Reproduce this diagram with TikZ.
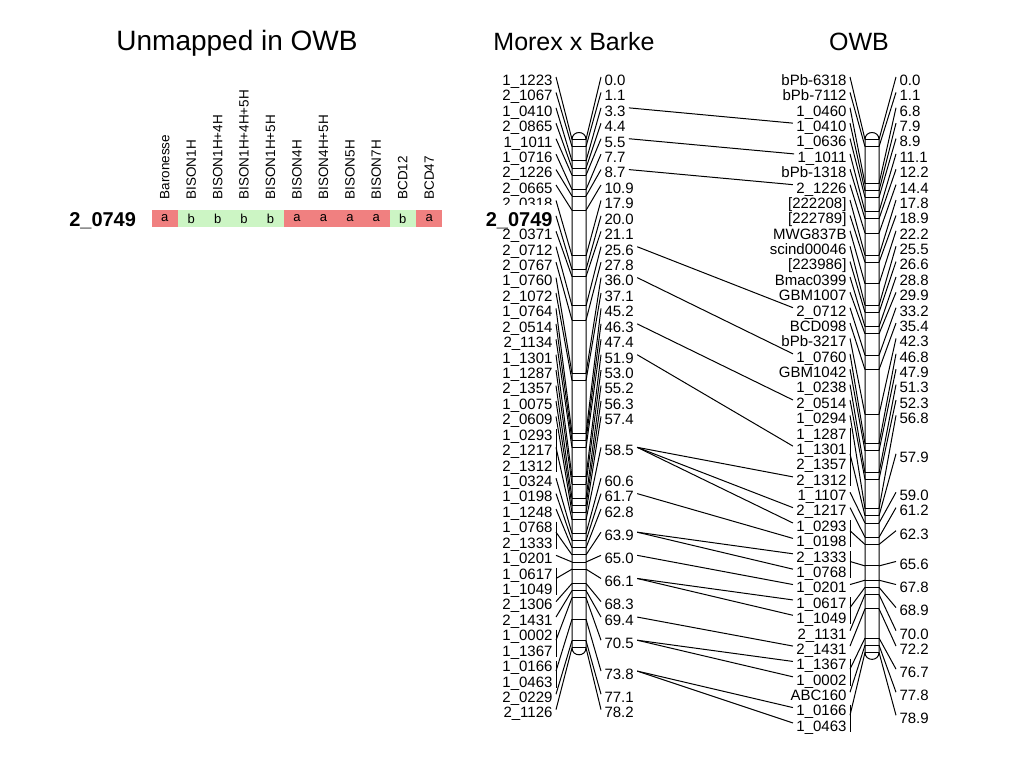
\documentclass[tikz,border=0pt]{standalone}
\usepackage{fontspec}
\setmainfont{Liberation Sans}
\usepackage{tikz}

\definecolor{cella}{RGB}{240,128,128}
\definecolor{cellb}{RGB}{204,245,196}

\begin{document}
\begin{tikzpicture}[x=1pt,y=-1pt,line width=1pt]
\tikzstyle{ttl} = [anchor=base, font=\fontsize{25}{25}\selectfont]
\tikzstyle{mk} = [anchor=east, inner xsep=3pt, inner ysep=0pt, text height=16.7pt, text depth=0pt, font=\fontsize{15}{15}\selectfont]
\tikzstyle{mkhl} = [mk, inner ysep=1pt, text height=20.3pt, fill=white, font=\bfseries\fontsize{20}{20}\selectfont]
\tikzstyle{ps} = [mk, anchor=west]
\tikzstyle{cell} = [minimum width=26.45pt, minimum height=17pt, inner sep=0pt, font=\fontsize{13}{13}\selectfont]
\tikzstyle{hdr} = [rotate=90, anchor=west, inner sep=0pt, font=\fontsize{13.5}{13.5}\selectfont]
\useasboundingbox (0,0) rectangle (1024,768);

\node[ttl, font=\fontsize{28}{28}\selectfont] (unm) at (237,51) {Unmapped in OWB};
\node[ttl] (mxb) at (574,51) {Morex x Barke};
\node[ttl] (owb) at (859,51) {OWB};

% genotype row
\node[mkhl] (row) at (139.5,216) {2\_0749};
\foreach \v/\s [count=\k] in {a/Baronesse, b/BISON1H, b/BISON1H+4H, b/BISON1H+4H+5H, b/BISON1H+5H, a/BISON4H, a/BISON4H+5H, a/BISON5H, a/BISON7H, b/BCD12, a/BCD47}
{
  \node[cell, fill=cell\v] (c\k) at ({151.5+26.45*(\k-0.5)},218.5) {\v};
  \node[hdr] (h\k) at ({151.5+26.45*(\k-0.5)},200) {\s};
}

% Morex x Barke
\draw (572,139.5) .. controls (572,130.2) and (586,130.2) .. (586,139.5) -- (586,647.8)
  .. controls (586,657.1) and (572,657.1) .. (572,647.8) -- cycle;
\foreach \mname [count=\i] in {1\_1223,2\_1067,1\_0410,2\_0865,1\_1011,1\_0716,2\_1226,2\_0665,2\_0318,2\_0749,2\_0371,2\_0712,2\_0767,1\_0760,2\_1072,1\_0764,2\_0514,2\_1134,1\_1301,1\_1287,2\_1357,1\_0075,2\_0609,1\_0293,2\_1217,2\_1312,1\_0324,1\_0198,1\_1248,1\_0768,2\_1333,1\_0201,1\_0617,1\_1049,2\_1306,2\_1431,1\_0002,1\_1367,1\_0166,1\_0463,2\_0229,2\_1126}
{
  \ifnum\i=10 \node[mkhl] (ml\i) at (556,{77+15.43*(\i-1)}) {\mname};
  \else \node[mk] (ml\i) at (556,{77+15.43*(\i-1)}) {\mname};
  \fi
}
\foreach \fa/\la/\cpos [count=\g] in {1/1/0.0, 2/2/1.1, 3/3/3.3, 4/4/4.4, 5/5/5.5, 6/6/7.7, 7/7/8.7, 8/8/10.9, 9/9/17.9, 10/10/20.0, 11/11/21.1, 12/12/25.6, 13/13/27.8, 14/14/36.0, 15/15/37.1, 16/16/45.2, 17/17/46.3, 18/18/47.4, 19/19/51.9, 20/20/53.0, 21/21/55.2, 22/22/56.3, 23/23/57.4, 24/26/58.5, 27/27/60.6, 28/28/61.7, 29/29/62.8, 30/31/63.9, 32/32/65.0, 33/34/66.1, 35/35/68.3, 36/36/69.4, 37/38/70.5, 39/40/73.8, 41/41/77.1, 42/42/78.2}
{
  \coordinate (bl\g) at (572,{139.5+6.5*\cpos});
  \coordinate (br\g) at (586,{139.5+6.5*\cpos});
  \node[ps] (pl\g) at (601,{77+15.43*((\fa+\la)/2-1)}) {\cpos};
  \draw (bl\g) -- (br\g);
  \draw (br\g) -- (pl\g.west);
  \ifnum\fa=\la \draw (ml\fa.east) -- (bl\g);
  \else
    \coordinate (gl\g) at (556,{77+15.43*((\fa+\la)/2-1)});
    \draw ([yshift=-6pt]ml\fa.north east) -- (ml\la.south east);
    \draw (gl\g) -- (bl\g);
  \fi
}

% OWB
\draw (865,139.5) .. controls (865,130.2) and (879,130.2) .. (879,139.5) -- (879,652.35)
  .. controls (879,661.7) and (865,661.7) .. (865,652.35) -- cycle;
\foreach \mname [count=\i] in {bPb-6318,bPb-7112,1\_0460,1\_0410,1\_0636,1\_1011,bPb-1318,2\_1226,{[222208]},{[222789]},MWG837B,scind00046,{[223986]},Bmac0399,GBM1007,2\_0712,BCD098,bPb-3217,1\_0760,GBM1042,1\_0238,2\_0514,1\_0294,1\_1287,1\_1301,2\_1357,2\_1312,1\_1107,2\_1217,1\_0293,1\_0198,2\_1333,1\_0768,1\_0201,1\_0617,1\_1049,2\_1131,2\_1431,1\_1367,1\_0002,ABC160,1\_0166,1\_0463}
  \node[mk] (mr\i) at (850,{77+15.38*(\i-1)}) {\mname};
\foreach \fa/\la/\cpos [count=\g] in {1/1/0.0, 2/2/1.1, 3/3/6.8, 4/4/7.9, 5/5/8.9, 6/6/11.1, 7/7/12.2, 8/8/14.4, 9/9/17.8, 10/10/18.9, 11/11/22.2, 12/12/25.5, 13/13/26.6, 14/14/28.8, 15/15/29.9, 16/16/33.2, 17/17/35.4, 18/18/42.3, 19/19/46.8, 20/20/47.9, 21/21/51.3, 22/22/52.3, 23/23/56.8, 24/27/57.9, 28/28/59.0, 29/29/61.2, 30/31/62.3, 32/33/65.6, 34/34/67.8, 35/36/68.9, 37/37/70.0, 38/38/72.2, 39/40/76.7, 41/41/77.8, 42/43/78.9}
{
  \coordinate (bL\g) at (865,{139.5+6.5*\cpos});
  \coordinate (bR\g) at (879,{139.5+6.5*\cpos});
  \node[ps] (pr\g) at (896,{77+15.38*((\fa+\la)/2-1)}) {\cpos};
  \draw (bL\g) -- (bR\g);
  \draw (bR\g) -- (pr\g.west);
  \ifnum\fa=\la \draw (mr\fa.east) -- (bL\g);
  \else
    \coordinate (gr\g) at (850,{77+15.38*((\fa+\la)/2-1)});
    \draw ([yshift=-6pt]mr\fa.north east) -- (mr\la.south east);
    \draw (gr\g) -- (bL\g);
  \fi
}

% shared markers
\foreach \a/\b in {3/4, 5/6, 7/8, 12/16, 14/19, 17/22, 19/25, 24/27, 24/29, 24/30, 26/31, 28/32, 28/33, 29/34, 30/35, 30/36, 32/38, 33/39, 33/40, 34/42, 34/43}
  \draw (pl\a.east) -- (mr\b.west);
\end{tikzpicture}
\end{document}
